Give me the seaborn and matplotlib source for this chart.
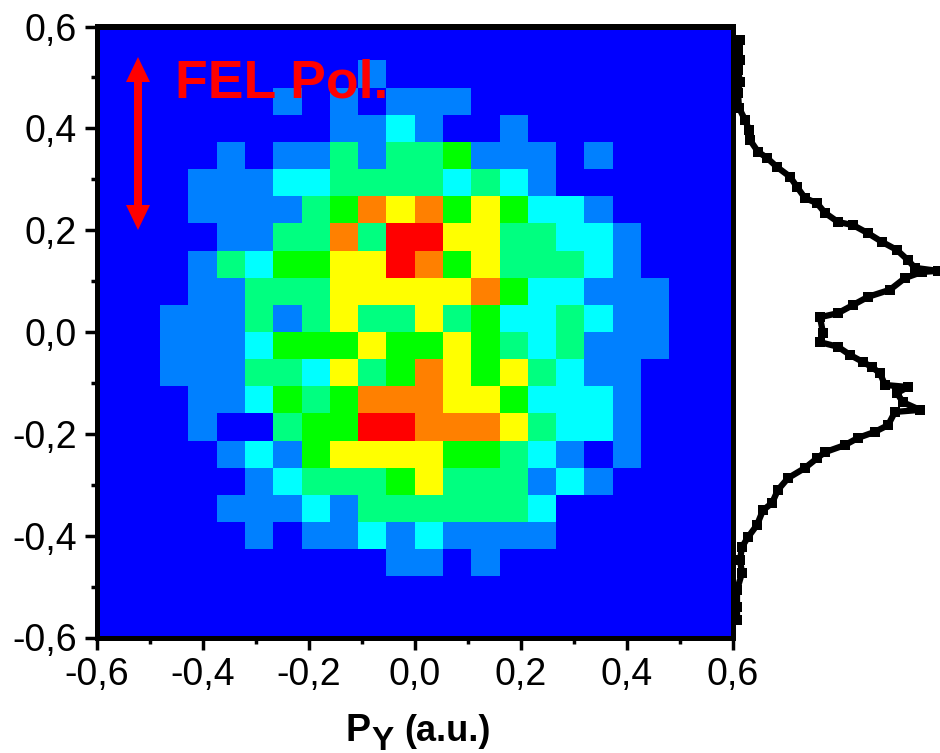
import matplotlib
matplotlib.use("Agg")
import matplotlib.pyplot as plt
import pandas as pd
import seaborn as sns
from matplotlib.colors import ListedColormap
from matplotlib.patches import FancyArrow
from matplotlib.transforms import Affine2D

# ==============================
# DATA
# ==============================
level_colors = ["#0000ff", "#0080ff", "#00ffff", "#00ff80", "#00ff00", "#ffff00", "#ff8000", "#ff0000"]

counts = [
    [0, 0, 0, 0, 0, 0, 0, 0, 0, 0, 0, 0, 0, 0, 0, 0, 0, 0, 0, 0, 0, 0, 0, 0],
    [0, 0, 0, 0, 0, 0, 0, 0, 0, 0, 0, 0, 0, 0, 0, 0, 0, 0, 0, 0, 0, 0, 0, 0],
    [0, 0, 0, 0, 0, 0, 0, 0, 0, 0, 1, 0, 0, 0, 0, 0, 0, 0, 0, 0, 0, 0, 0, 0],
    [0, 0, 0, 0, 0, 0, 0, 1, 0, 1, 0, 1, 1, 1, 0, 0, 0, 0, 0, 0, 0, 0, 0, 0],
    [0, 0, 0, 0, 0, 0, 0, 0, 0, 1, 1, 2, 1, 0, 0, 1, 0, 0, 0, 0, 0, 0, 0, 0],
    [0, 0, 0, 0, 0, 1, 0, 1, 1, 3, 1, 3, 3, 4, 1, 1, 1, 0, 1, 0, 0, 0, 0, 0],
    [0, 0, 0, 0, 1, 1, 1, 2, 2, 3, 3, 3, 3, 2, 3, 2, 1, 0, 0, 0, 0, 0, 0, 0],
    [0, 0, 0, 0, 1, 1, 1, 1, 3, 4, 6, 5, 6, 4, 5, 4, 2, 2, 1, 0, 0, 0, 0, 0],
    [0, 0, 0, 0, 0, 1, 1, 3, 3, 6, 3, 7, 7, 5, 5, 3, 3, 2, 2, 1, 0, 0, 0, 0],
    [0, 0, 0, 0, 1, 3, 2, 4, 4, 5, 5, 7, 6, 4, 5, 3, 3, 3, 2, 1, 0, 0, 0, 0],
    [0, 0, 0, 0, 1, 1, 3, 3, 3, 5, 5, 5, 5, 5, 6, 4, 2, 2, 1, 1, 1, 0, 0, 0],
    [0, 0, 0, 1, 1, 1, 3, 1, 3, 5, 3, 3, 5, 3, 4, 2, 2, 3, 2, 1, 1, 0, 0, 0],
    [0, 0, 0, 1, 1, 1, 2, 4, 4, 4, 5, 4, 4, 5, 4, 3, 2, 3, 1, 1, 1, 0, 0, 0],
    [0, 0, 0, 1, 1, 1, 3, 3, 2, 5, 3, 4, 6, 5, 4, 5, 3, 2, 1, 1, 0, 0, 0, 0],
    [0, 0, 0, 0, 1, 1, 2, 4, 3, 4, 6, 6, 6, 5, 5, 4, 2, 2, 2, 1, 0, 0, 0, 0],
    [0, 0, 0, 0, 1, 0, 0, 3, 4, 4, 7, 7, 6, 6, 6, 5, 3, 2, 2, 1, 0, 0, 0, 0],
    [0, 0, 0, 0, 0, 1, 2, 1, 4, 5, 5, 5, 5, 4, 4, 3, 2, 1, 0, 1, 0, 0, 0, 0],
    [0, 0, 0, 0, 0, 0, 1, 2, 3, 3, 3, 4, 5, 3, 3, 3, 1, 2, 1, 0, 0, 0, 0, 0],
    [0, 0, 0, 0, 0, 1, 1, 1, 2, 1, 3, 3, 3, 3, 3, 3, 2, 0, 0, 0, 0, 0, 0, 0],
    [0, 0, 0, 0, 0, 0, 1, 0, 1, 1, 2, 1, 2, 1, 1, 1, 1, 0, 0, 0, 0, 0, 0, 0],
    [0, 0, 0, 0, 0, 0, 0, 0, 0, 0, 0, 1, 1, 0, 1, 0, 0, 0, 0, 0, 0, 0, 0, 0],
    [0, 0, 0, 0, 0, 0, 0, 0, 0, 0, 0, 0, 0, 0, 0, 0, 0, 0, 0, 0, 0, 0, 0, 0],
    [0, 0, 0, 0, 0, 0, 0, 0, 0, 0, 0, 0, 0, 0, 0, 0, 0, 0, 0, 0, 0, 0, 0, 0],
    [0, 0, 0, 0, 0, 0, 0, 0, 0, 0, 0, 0, 0, 0, 0, 0, 0, 0, 0, 0, 0, 0, 0, 0],
]

profile_py = [
    0.574, 0.554, 0.534, 0.515, 0.491, 0.470, 0.440, 0.417, 0.397, 0.377,
    0.354, 0.342, 0.324, 0.305, 0.285, 0.263, 0.253, 0.234, 0.216, 0.210,
    0.194, 0.177, 0.161, 0.141, 0.126, 0.120, 0.118, 0.106, 0.083, 0.069,
    0.053, 0.037, 0.029, -0.002, -0.020, -0.029, -0.045, -0.059, -0.069, -0.081,
    -0.104, -0.108, -0.120, -0.138, -0.153, -0.157, -0.183, -0.196, -0.208, -0.222,
    -0.236, -0.248, -0.267, -0.287, -0.310, -0.336, -0.350, -0.379, -0.403, -0.422,
    -0.448, -0.473, -0.507, -0.540, -0.566,
]
profile_counts = [
    5, 3, 5, 3, 5, 3, 4, 10, 14, 15,
    23, 32, 42, 55, 62, 70, 82, 90, 103, 118,
    133, 147, 162, 173, 180, 203, 187, 170, 155, 133,
    118, 103, 85, 88, 85, 103, 115, 128, 137, 145,
    150, 173, 162, 168, 185, 160, 153, 140, 123, 110,
    90, 82, 70, 53, 43, 37, 28, 22, 13, 7,
    5, 7, 2, 2, 2,
]

major_ticks = [-0.6, -0.4, -0.2, 0.0, 0.2, 0.4, 0.6]
minor_ticks = [-0.5, -0.3, -0.1, 0.1, 0.3, 0.5]
major_labels = ["-0,6", "-0,4", "-0,2", "0,0", "0,2", "0,4", "0,6"]

# ==============================
# GLOBAL STYLE
# ==============================
sns.set_theme(style="white")
plt.rcParams["font.family"] = ["Liberation Sans", "DejaVu Sans"]
plt.rcParams["axes.edgecolor"] = "black"
plt.rcParams["axes.linewidth"] = 3.6

W, H = 940, 753
fig = plt.figure(figsize=(W / 100, H / 100), dpi=100, facecolor="white")
# pixel coordinates measured from the top left corner
px = Affine2D().scale(1 / W, -1 / H).translate(0, 1) + fig.transFigure

left, right, top, bottom = 96.5, 733.0, 26.5, 637.5
ax = fig.add_axes([left / W, 1 - bottom / H, (right - left) / W, (bottom - top) / H])

# ==============================
# Momentum map
# ==============================
sns.heatmap(
    pd.DataFrame(counts),
    ax=ax,
    cmap=ListedColormap(level_colors),
    vmin=-0.5,
    vmax=7.5,
    cbar=False,
    xticklabels=False,
    yticklabels=False,
)

centre = len(counts) / 2
cells_per_unit = 18.75


def to_col(v):
    return centre + v * cells_per_unit


def to_row(v):
    return centre - v * cells_per_unit


ax.set_xlim(to_col(-0.6), to_col(0.6))
ax.set_ylim(to_row(-0.6), to_row(0.6))
for side in ax.spines.values():
    side.set_visible(True)
    side.set_linewidth(3.6)
    side.set_color("black")

ax.set_xticks([to_col(v) for v in major_ticks], major_labels, rotation=0)
ax.set_yticks([to_row(v) for v in major_ticks], major_labels, rotation=0)
ax.set_xticks([to_col(v) for v in minor_ticks], minor=True)
ax.set_yticks([to_row(v) for v in minor_ticks], minor=True)
ax.tick_params(which="major", direction="out", length=8.6, width=2.5, color="black",
               labelsize=27, labelcolor="black", pad=5.5, bottom=True, left=True)
ax.tick_params(which="minor", direction="out", length=4.3, width=2.5, color="black",
               bottom=True, left=True)

# inward ticks on the top and right sides
top_axis = ax.secondary_xaxis("top")
right_axis = ax.secondary_yaxis("right")
top_axis.set_xticks([to_col(v) for v in major_ticks], [""] * 7)
top_axis.set_xticks([to_col(v) for v in minor_ticks], minor=True)
right_axis.set_yticks([to_row(v) for v in major_ticks], [""] * 7)
right_axis.set_yticks([to_row(v) for v in minor_ticks], minor=True)
for sec in (top_axis, right_axis):
    sec.tick_params(which="major", direction="in", length=8.6, width=2.5, color="black")
    sec.tick_params(which="minor", direction="in", length=4.3, width=2.5, color="black")
    for side in sec.spines.values():
        side.set_linewidth(3.6)

# ==============================
# Projection on the right
# ==============================
ax_side = fig.add_axes([735 / W, 1 - bottom / H, 205 / W, (bottom - top) / H], facecolor="none")
profile = pd.DataFrame({"counts": profile_counts, "py": profile_py})
sns.lineplot(
    data=profile,
    x="counts",
    y="py",
    orient="y",
    sort=False,
    estimator=None,
    color="black",
    linewidth=4.5,
    marker="s",
    markersize=7,
    markeredgewidth=0,
    clip_on=False,
    ax=ax_side,
)
ax_side.set_xlim(0, 205)
ax_side.set_ylim(-0.6, 0.6)
ax_side.axis("off")

# ==============================
# Annotations
# ==============================
for tip in (57, 230):
    fig.add_artist(FancyArrow(
        138, 143, 0, tip - 143, width=8, head_width=24, head_length=25,
        length_includes_head=True, color="#ff0000", linewidth=0, transform=px,
    ))

fig.text(175, 97, "FEL Pol.", color="#ff0000", fontsize=38.5, fontweight="bold",
         ha="left", va="baseline", transform=px)
fig.text(346, 741, "P", color="black", fontsize=27, fontweight="bold",
         ha="left", va="baseline", transform=px)
fig.text(371, 750, "Y", color="black", fontsize=24, fontweight="bold",
         ha="left", va="baseline", transform=px)
fig.text(404, 741, "(a.u.)", color="black", fontsize=26, fontweight="bold",
         ha="left", va="baseline", transform=px)

fig.savefig("out.png", dpi=100)
